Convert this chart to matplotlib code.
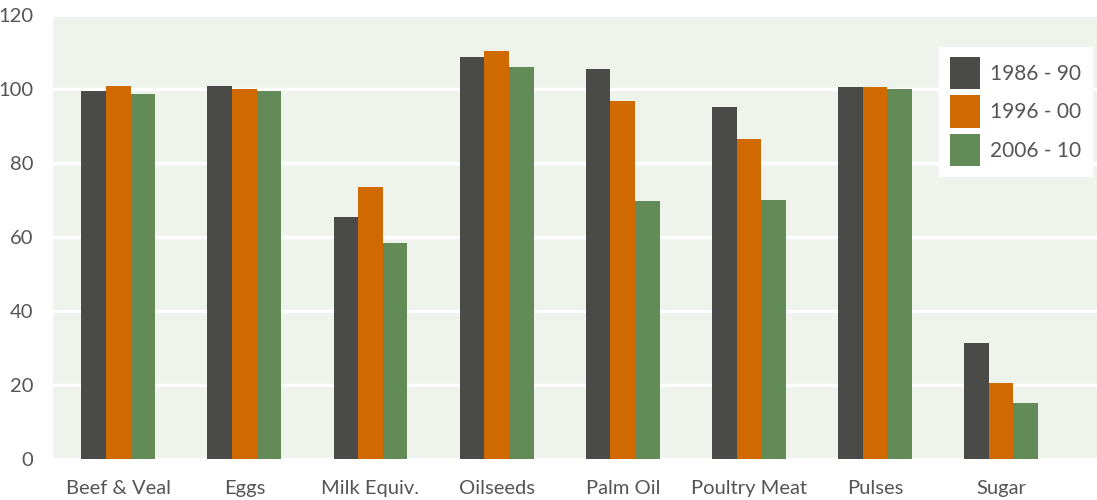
import numpy as np
import matplotlib.pyplot as plt

categories = ["Beef & Veal", "Eggs", "Milk Equiv.", "Oilseeds", "Palm Oil",
              "Poultry Meat", "Pulses", "Sugar"]
series_names = ["1986 - 90", "1996 - 00", "2006 - 10"]
v_1986 = [99.4, 100.7, 65.3, 108.5, 105.3, 95.0, 100.4, 31.3]
v_1996 = [100.7, 99.9, 73.4, 110.2, 96.7, 86.4, 100.4, 20.5]
v_2006 = [98.5, 99.4, 58.3, 105.8, 69.7, 69.9, 99.9, 15.1]
colors = ["#4a4a48", "#d06900", "#628b58"]

plt.rcParams['font.family'] = ['Lato', 'DejaVu Sans']
text_color = "#555555"

fig = plt.figure(figsize=(10.97, 5.0), dpi=100)
ax = fig.add_axes([0.048, 0.082, 0.952, 0.889])
ax.set_facecolor("#eef3ec")

x = np.arange(len(categories))
w = 0.195
for i, vals in enumerate([v_1986, v_1996, v_2006]):
    ax.bar(x + (i - 1) * w, vals, width=w, color=colors[i], label=series_names[i], zorder=3)

ax.set_ylim(0, 120)
ax.set_xlim(-0.52, 7.76)
ax.set_yticks(np.arange(0, 121, 20))
ax.set_xticks(x)
ax.set_xticklabels(categories)
ax.yaxis.grid(True, color="white", linewidth=2.5, zorder=1)
ax.set_axisbelow(True)
for s in ax.spines.values():
    s.set_visible(False)
ax.tick_params(axis='both', length=0, labelsize=14.5, colors=text_color)
ax.tick_params(axis='x', pad=15)
ax.tick_params(axis='y', pad=14)

leg = ax.legend(loc="upper right", bbox_to_anchor=(0.995, 0.928), fontsize=15,
                frameon=True, fancybox=False, framealpha=1, edgecolor="white",
                handlelength=1.45, handleheight=2.0, handletextpad=0.5,
                labelspacing=0.3, borderpad=0.5, borderaxespad=0)
for t in leg.get_texts():
    t.set_color(text_color)

fig.savefig("out.png", dpi=100)
